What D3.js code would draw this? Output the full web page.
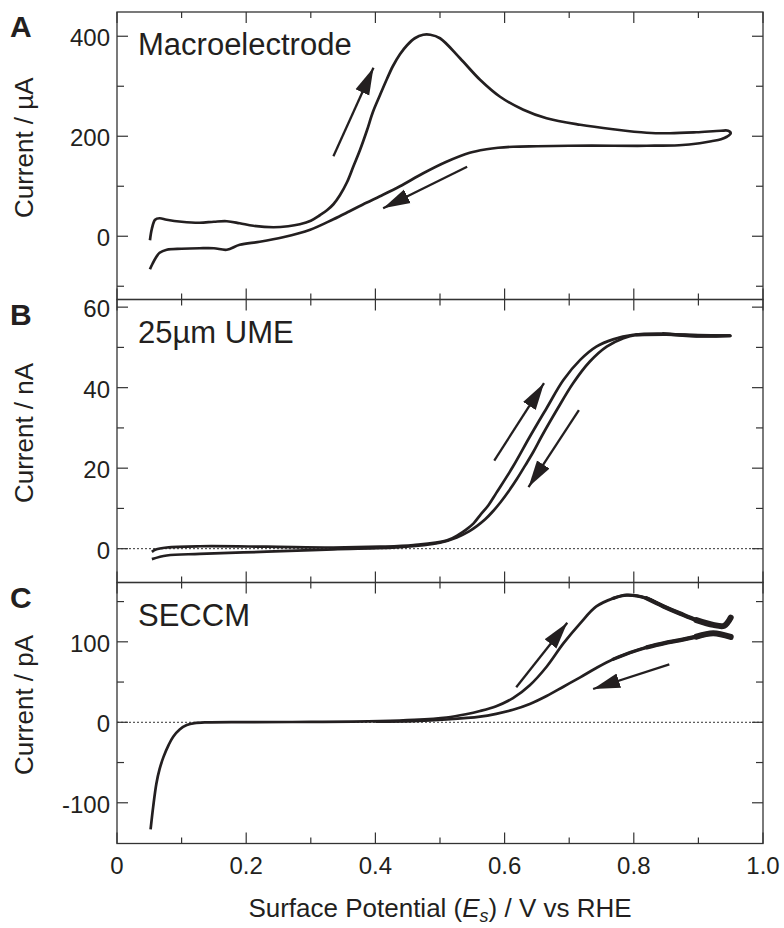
<!DOCTYPE html>
<html>
<head>
<meta charset="utf-8">
<script src="https://cdn.jsdelivr.net/npm/d3@7"></script>
<style>
  body { margin: 0; background: #fff; }
  svg { display: block; font-family: "Liberation Sans", Arial, Helvetica, sans-serif; }
</style>
</head>
<body>
<div id="chart"></div>
<script>
// --- data (potential in V vs RHE, current in panel units) ---
const xTicksMajor = [0, 0.2, 0.4, 0.6, 0.8, 1.0];
const xTickLabels = ["0", "0.2", "0.4", "0.6", "0.8", "1.0"];
const xTicksMinor = [0.1, 0.3, 0.5, 0.7, 0.9];

// A: macroelectrode, µA
const macroForward = [
  [0.051, -8], [0.054, 15], [0.059, 33], [0.066, 36], [0.077, 33], [0.100, 29],
  [0.128, 27], [0.150, 29], [0.170, 30], [0.190, 26], [0.211, 21], [0.242, 18],
  [0.265, 20], [0.283, 24], [0.300, 31], [0.314, 42], [0.325, 52], [0.335, 64],
  [0.345, 82], [0.356, 108], [0.366, 140], [0.376, 172], [0.387, 212], [0.396, 248],
  [0.407, 282], [0.418, 315], [0.427, 340], [0.438, 364], [0.449, 382], [0.461, 396],
  [0.474, 403], [0.485, 403], [0.500, 396], [0.531, 356], [0.562, 313], [0.593, 279],
  [0.629, 253], [0.665, 236], [0.717, 223], [0.768, 214], [0.820, 207], [0.856, 206],
  [0.897, 208], [0.935, 211], [0.946, 211], [0.950, 206]
];
const macroReverse = [
  [0.944, 199], [0.935, 194], [0.920, 190], [0.902, 186], [0.870, 182], [0.820, 181],
  [0.768, 181], [0.700, 181], [0.650, 180], [0.613, 179], [0.590, 177], [0.572, 174],
  [0.546, 167], [0.510, 149], [0.474, 126], [0.438, 100], [0.407, 80], [0.386, 67],
  [0.360, 50], [0.335, 34], [0.299, 13], [0.257, -2], [0.221, -11], [0.190, -17],
  [0.170, -27], [0.150, -24], [0.128, -24], [0.100, -25], [0.077, -27], [0.066, -33],
  [0.061, -41], [0.055, -55], [0.051, -66]
];
const macroArrows = [[0.335, 160, 0.397, 337], [0.542, 139, 0.412, 56]];

// B: 25 µm UME, nA
const umeForward = [
  [0.054, -0.8], [0.060, -0.2], [0.077, 0.3], [0.128, 0.6], [0.232, 0.5], [0.335, 0.3],
  [0.407, 0.5], [0.459, 0.9], [0.510, 2.0], [0.530, 3.6], [0.541, 4.8], [0.552, 6.3],
  [0.562, 8.3], [0.575, 10.8], [0.587, 13.8], [0.613, 20.4], [0.639, 27.8], [0.665, 34.9],
  [0.691, 41.9], [0.717, 46.9], [0.742, 50.2], [0.768, 52.0], [0.799, 53.1], [0.846, 53.4],
  [0.897, 52.8], [0.949, 52.9]
];
const umeReverse = [
  [0.949, 52.9], [0.900, 53.0], [0.850, 53.2], [0.804, 53.1], [0.784, 52.3], [0.758, 50.2],
  [0.732, 46.5], [0.706, 41.1], [0.681, 34.5], [0.657, 27.8], [0.645, 24.2], [0.632, 20.7],
  [0.619, 17.3], [0.606, 14.2], [0.594, 11.6], [0.582, 9.3], [0.570, 7.3], [0.557, 5.6],
  [0.545, 4.3], [0.526, 2.8], [0.500, 1.5], [0.438, 0.35], [0.335, -0.15], [0.232, -0.75],
  [0.128, -1.3], [0.077, -1.7], [0.054, -2.6]
];
const umeArrows = [[0.584, 21.9, 0.661, 41.1], [0.715, 34.4, 0.637, 15.3]];

// C: SECCM, pA
const seccmForward = [
  [0.052, -133], [0.056, -105], [0.061, -76], [0.066, -58], [0.072, -43], [0.080, -28],
  [0.087, -18], [0.097, -9], [0.108, -3.5], [0.120, -1], [0.139, 0], [0.200, 0.3],
  [0.300, 0.5], [0.407, 1.5], [0.460, 3], [0.510, 6], [0.540, 10], [0.562, 14],
  [0.587, 20], [0.613, 30], [0.639, 46], [0.665, 69], [0.691, 98], [0.717, 123],
  [0.742, 144], [0.768, 154], [0.789, 158], [0.820, 154], [0.846, 144], [0.872, 135],
  [0.897, 127], [0.923, 121], [0.940, 120], [0.950, 130]
];
const seccmReverse = [
  [0.950, 106], [0.923, 110.6], [0.897, 106.4], [0.872, 102.2], [0.846, 98.1], [0.820, 93.2],
  [0.794, 86.5], [0.768, 78.3], [0.742, 67.5], [0.717, 55.9], [0.691, 44.2], [0.665, 32.6],
  [0.639, 22.7], [0.613, 15.5], [0.587, 10.5], [0.562, 7], [0.510, 3.5], [0.459, 1.5],
  [0.400, 0.8]
];
const seccmArrows = [[0.618, 43.5, 0.697, 123.7], [0.855, 72, 0.737, 41.4]];
// potentials above which the SECCM trace is noisy, with the band thickness there
const seccmNoise = [[0.75, 3.4], [0.80, 4.4], [0.88, 6]];

const panels = [
  { letter: "A", name: "Macroelectrode", unit: "Current / µA", top: 12, bottom: 299.5,
    domain: [-126.5, 448.5], major: [0, 200, 400], minor: [-100, 100, 300],
    series: [macroForward.concat(macroReverse)], arrows: macroArrows, zero: false, noise: [] },
  { letter: "B", name: "25µm UME", unit: "Current / nA", top: 299.5, bottom: 582.5,
    domain: [-8.4, 61.9], major: [0, 20, 40, 60], minor: [10, 30, 50],
    series: [umeForward, umeReverse], arrows: umeArrows, zero: true, noise: [[0.80, 3.2]] },
  { letter: "C", name: "SECCM", unit: "Current / pA", top: 582.5, bottom: 843.5,
    domain: [-150.6, 173.7], major: [-100, 0, 100], minor: [-50, 50, 150],
    series: [seccmForward, seccmReverse], arrows: seccmArrows, zero: true, noise: seccmNoise }
];

const width = 784, height = 928;
const left = 117, right = 763;
const ink = "#231f20";

const svg = d3.select("#chart").append("svg")
  .attr("width", width).attr("height", height);

svg.append("defs").append("marker")
  .attr("id", "arrowhead")
  .attr("markerUnits", "userSpaceOnUse")
  .attr("markerWidth", 28).attr("markerHeight", 16)
  .attr("viewBox", "0 0 28 16")
  .attr("refX", 27).attr("refY", 8)
  .attr("orient", "auto")
  .append("path")
  .attr("d", "M0,0.5 L27,8 L0,15.5 Z")
  .attr("fill", ink);

const x = d3.scaleLinear().domain([0, 1]).range([left, right]);

panels.forEach((p, i) => {
  const y = d3.scaleLinear().domain(p.domain).range([p.bottom, p.top]);
  const g = svg.append("g");

  // frame
  g.append("rect")
    .attr("x", left).attr("y", p.top)
    .attr("width", right - left).attr("height", p.bottom - p.top)
    .attr("fill", "none").attr("stroke", "#333").attr("stroke-width", 1.3);

  // x ticks, inward on top and bottom
  const xt = xTicksMajor.map(v => ({ v, len: 11 })).concat(xTicksMinor.map(v => ({ v, len: 6 })));
  xt.forEach(t => {
    g.append("line").attr("x1", x(t.v)).attr("x2", x(t.v))
      .attr("y1", p.bottom).attr("y2", p.bottom - t.len)
      .attr("stroke", "#333").attr("stroke-width", 1.2);
    g.append("line").attr("x1", x(t.v)).attr("x2", x(t.v))
      .attr("y1", p.top).attr("y2", p.top + t.len)
      .attr("stroke", "#333").attr("stroke-width", 1.2);
  });

  // y ticks, inward on left and right
  const yt = p.major.map(v => ({ v, len: 11 })).concat(p.minor.map(v => ({ v, len: 7 })));
  yt.forEach(t => {
    g.append("line").attr("x1", left).attr("x2", left + t.len)
      .attr("y1", y(t.v)).attr("y2", y(t.v))
      .attr("stroke", "#333").attr("stroke-width", 1.2);
    g.append("line").attr("x1", right).attr("x2", right - t.len)
      .attr("y1", y(t.v)).attr("y2", y(t.v))
      .attr("stroke", "#333").attr("stroke-width", 1.2);
  });

  // y tick labels
  g.selectAll(".ylab").data(p.major).enter()
    .append("text")
    .attr("x", left - 7).attr("y", d => y(d) + 10)
    .attr("text-anchor", "end")
    .attr("fill", ink)
    .style("font-size", "24px")
    .text(d => d);

  // y axis title
  g.append("text")
    .attr("transform", `translate(33,${(p.top + p.bottom) / 2 - 8}) rotate(-90)`)
    .attr("text-anchor", "middle")
    .attr("fill", ink)
    .style("font-size", "26px")
    .text(p.unit);

  // panel letter
  g.append("text")
    .attr("x", 10).attr("y", p.top + 25)
    .attr("fill", ink)
    .style("font-size", "30px").style("font-weight", "bold")
    .text(p.letter);

  // panel name
  g.append("text")
    .attr("x", 138).attr("y", p.top + 43)
    .attr("fill", ink)
    .style("font-size", "31px")
    .text(p.name);

  // zero line
  if (p.zero) {
    g.append("line")
      .attr("x1", left).attr("x2", right)
      .attr("y1", y(0)).attr("y2", y(0))
      .attr("stroke", "#333").attr("stroke-width", 1)
      .attr("stroke-dasharray", "2,2");
  }

  const line = d3.line()
    .x(d => x(d[0])).y(d => y(d[1]))
    .curve(d3.curveCatmullRom.alpha(0.5));

  p.series.forEach(s => {
    g.append("path")
      .attr("d", line(s))
      .attr("fill", "none").attr("stroke", ink)
      .attr("stroke-width", 2.7).attr("stroke-linejoin", "round");
    // thicker overlay where the recorded trace is noisy
    p.noise.forEach(([from, w]) => {
      g.append("path")
        .attr("d", line(s.filter(d => d[0] >= from)))
        .attr("fill", "none").attr("stroke", ink)
        .attr("stroke-width", w).attr("stroke-linejoin", "round")
        .attr("stroke-linecap", "round");
    });
  });

  // scan direction arrows
  p.arrows.forEach(a => {
    g.append("line")
      .attr("x1", x(a[0])).attr("y1", y(a[1]))
      .attr("x2", x(a[2])).attr("y2", y(a[3]))
      .attr("stroke", ink).attr("stroke-width", 2.3)
      .attr("marker-end", "url(#arrowhead)");
  });

  // x tick labels only on the bottom panel
  if (i === panels.length - 1) {
    g.selectAll(".xlab").data(xTicksMajor).enter()
      .append("text")
      .attr("x", d => x(d)).attr("y", 874)
      .attr("text-anchor", "middle")
      .attr("fill", ink)
      .style("font-size", "24px")
      .text((d, k) => xTickLabels[k]);
  }
});

// x axis title
const xt = svg.append("text")
  .attr("x", (left + right) / 2).attr("y", 917)
  .attr("text-anchor", "middle")
  .attr("fill", ink)
  .style("font-size", "26px");
xt.append("tspan").text("Surface Potential (");
xt.append("tspan").style("font-style", "italic").text("E");
xt.append("tspan").style("font-style", "italic").style("font-size", "18px").attr("dy", 5).text("s");
xt.append("tspan").attr("dy", -5).text(") / V vs RHE");
</script>
</body>
</html>
